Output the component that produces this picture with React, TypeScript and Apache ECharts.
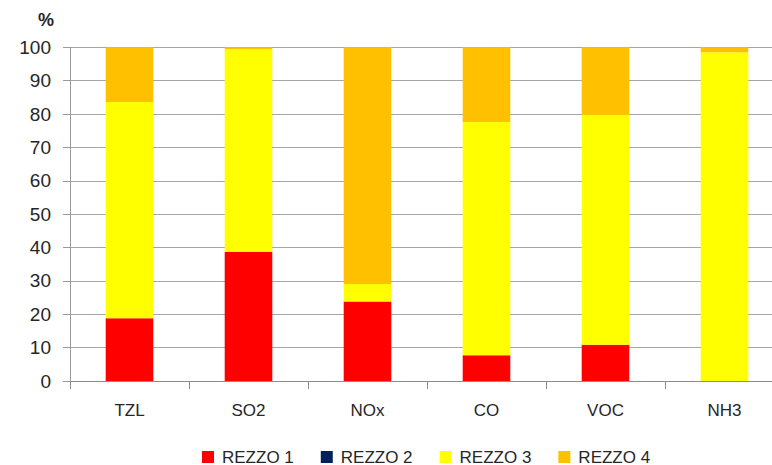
import React, { useEffect, useRef } from "react";
import * as echarts from "echarts";

const categories = ["TZL", "SO2", "NOx", "CO", "VOC", "NH3"];
const seriesNames = ["REZZO 1", "REZZO 2", "REZZO 3", "REZZO 4"];
const rezzo1 = [18.8, 38.7, 23.8, 7.7, 10.9, 0];
const rezzo2 = [0, 0, 0, 0, 0, 0];
const rezzo3 = [64.8, 60.7, 5.3, 69.9, 68.8, 98.5];
const rezzo4 = [16.4, 0.6, 70.9, 22.4, 20.3, 1.5];
const colors = ["#FF0000", "#002060", "#FFFF00", "#FFC000"];
const yTicks = { min: 0, max: 100, interval: 10 };

const FONT = "'Liberation Sans', Arial, sans-serif";

export default function App() {
  const ref = useRef<HTMLDivElement>(null);

  useEffect(() => {
    if (!ref.current) return;
    const chart = echarts.init(ref.current, null, { renderer: "svg" });
    const values = [rezzo1, rezzo2, rezzo3, rezzo4];
    chart.setOption({
      animation: false,
      backgroundColor: "#ffffff",
      grid: {
        left: 70,
        top: 47.3,
        width: 714,
        height: 333.7,
        containLabel: false,
        outerBoundsMode: "none",
      },
      legend: {
        data: seriesNames,
        left: 202,
        top: 448,
        padding: 0,
        itemWidth: 12,
        itemHeight: 12,
        itemGap: 27,
        icon: "rect",
        textStyle: {
          fontFamily: FONT,
          fontSize: 17,
          lineHeight: 18,
          color: "#262626",
          padding: [0, 0, 0, 3],
        },
      },
      xAxis: {
        type: "category",
        data: categories,
        axisLine: { lineStyle: { color: "#8c8c8c", width: 1 } },
        axisTick: { show: true, length: 8, alignWithLabel: false, lineStyle: { color: "#8c8c8c" } },
        axisLabel: { fontFamily: FONT, fontSize: 17, color: "#262626", margin: 21 },
      },
      yAxis: {
        type: "value",
        min: yTicks.min,
        max: yTicks.max,
        interval: yTicks.interval,
        name: "%",
        nameLocation: "end",
        nameGap: 18,
        nameTextStyle: {
          fontFamily: FONT,
          fontSize: 18,
          fontWeight: "bold",
          color: "#262626",
          align: "right",
          padding: [0, 16, 0, 0],
        },
        axisLine: { show: true, lineStyle: { color: "#9a9a9a", width: 1 } },
        axisTick: { show: true, length: 7, lineStyle: { color: "#9a9a9a" } },
        axisLabel: { fontFamily: FONT, fontSize: 19, color: "#262626", margin: 19 },
        splitLine: { lineStyle: { color: "#a6a6a6", width: 1 } },
      },
      series: seriesNames.map((name, i) => ({
        name,
        type: "bar",
        stack: "total",
        barWidth: "40%",
        data: values[i],
        itemStyle: { color: colors[i] },
      })),
    });
    return () => chart.dispose();
  }, []);

  return (
    <div
      ref={ref}
      style={{ position: "fixed", left: 0, top: 0, width: 772, height: 465 }}
    />
  );
}
